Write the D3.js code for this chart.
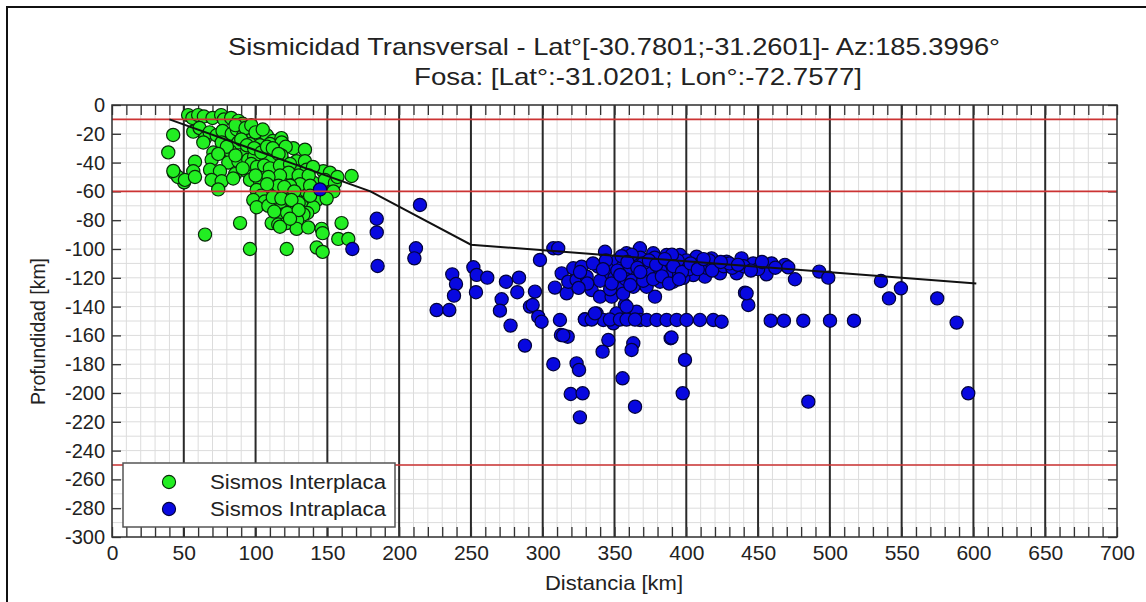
<!DOCTYPE html>
<html><head><meta charset="utf-8">
<script src="https://cdn.jsdelivr.net/npm/d3@7/dist/d3.min.js"></script>
<style>
body{margin:0;background:#fff;}
svg{display:block;font-family:"Liberation Sans",Arial,Helvetica,sans-serif;}
</style></head><body>
<svg id="c" width="1146" height="602"></svg>
<script>
const titleLines = ["Sismicidad Transversal - Lat°[-30.7801;-31.2601]- Az:185.3996°", "Fosa: [Lat°:-31.0201; Lon°:-72.7577]"];
const xLabel = "Distancia [km]";
const yLabel = "Profundidad [km]";
const legendLabels = ["Sismos Interplaca", "Sismos Intraplaca"];
const xTicks = [0,50,100,150,200,250,300,350,400,450,500,550,600,650,700];
const yTicks = [0,-20,-40,-60,-80,-100,-120,-140,-160,-180,-200,-220,-240,-260,-280,-300];
const refDepths = [-10,-60,-250];
const slabLine = [[40,-10],[180,-60],[250,-97],[602,-124]];

const interplaca = [
[42.6,-20.8],[39.2,-32.9],[43.2,-47],[50.2,-53.7],[46,-50],
[53,-7],[56,-9],[60,-7],[64,-8],[70,-9],[76,-7],[78,-10],[83,-9],[88,-11],[91,-13],
[56.6,-18.5],[61,-16],[64.8,-23.1],[68,-19],[72.9,-21],[77,-18],[83.4,-20],[87,-17],[91.5,-21],[95,-18],[98.4,-22],[103,-24],[107.8,-21],[112,-25],[118,-23],
[63.6,-26],[76.4,-26],[88,-26],[96,-27],[103,-28],[110,-27],[118.2,-26],
[70.6,-33],[82.2,-32],[93.8,-33],[100.8,-31],[107.8,-33],[114.7,-32],[126.3,-30],[134.4,-31],[121,-29],
[57.8,-39.4],[69.4,-38],[81,-40],[88,-39],[94.9,-38],[104.2,-40],[113.5,-39],[120.5,-40],[128.6,-39],[134.4,-39],[99,-36],[110,-37],[118,-35],
[42.7,-45.8],[56.6,-46],[68.3,-45],[75.2,-46],[85.7,-48],[93.8,-46],[101.9,-45],[107.8,-47],[114.7,-46],[121.7,-44],[128.6,-46],[135.5,-45],[147.2,-46],[151.8,-47],[140,-43],
[50.8,-52],[57.8,-50],[69.4,-52],[76.4,-53],[84.4,-51],[96.1,-52],[103.1,-53],[112.4,-51],[119.3,-53],[126.3,-52],[133.3,-51],[140.3,-54],[148.3,-52],[155.3,-54],[166.9,-49.3],[157,-50],
[74,-58.6],[100.8,-59],[110,-58],[119.3,-60],[128.6,-58],[137.9,-59],[154.2,-60],[104,-63],[124,-62],[132,-64],[145,-62],[115,-62],
[98.4,-66],[106.5,-67],[113.5,-66],[121.7,-68],[128.6,-66],[135.5,-67],[142.6,-66],[149.5,-65],
[100.8,-71],[108.9,-70],[118.2,-71],[125.2,-72],[132.1,-70],[140.2,-71],[136,-75],
[119.3,-76],[126.3,-77],[133.3,-76],[129,-80],
[89.2,-82],[111.2,-82],[115.8,-83],[121.7,-82],[159.9,-82],
[128.6,-86],[136.7,-85],[146,-86],[117,-84.5],
[64.8,-90],[157.6,-93],[164.6,-93],[146.7,-89],
[96.1,-100],[121.7,-100],[142.6,-99],[146.7,-102],
[86,-14],[93,-16],[97,-14],[100,-19],[105,-17],[90,-24],[94,-28],[99,-30],[104,-33],[108,-29],[112,-30],[116,-34],[97,-41],[101,-43],[106,-42],
[110,-44],[117,-42],[124,-41],[123,-47],[117,-49],[109,-50],[100,-49],[91,-44],[130,-49],[137,-49],[131,-55],[124,-56],[116,-56],[108,-55],[138,-56],
[120,-57],[127,-60],[112,-64],[118,-65],[130,-68],[125,-66],[138,-63],[113,-74],[122,-75],[130,-73],[124,-79],[80,-29],[74,-34],[86,-35]
];

const intraplaca = [
[144.9,-58.6],[167.4,-100],[184.4,-79],[184.4,-88.5],[185,-111.8],[214.5,-69.4],[211.7,-99.5],[210.6,-106.5],
[226.1,-142.4],[234.9,-142.4],[237,-117.6],[239.6,-124.3],[238.2,-132.4],
[251.7,-112.7],[254,-118],[261.4,-119.9],[253.5,-130],[274.4,-122.7],[283.5,-119.9],[282.3,-130],[271.4,-134.9],[270.2,-142.8],[277.6,-153.2],[287.6,-167.1],[291.1,-140],
[307.4,-99.5],[310.8,-99.5],[298.1,-107.6],[294.6,-129.6],[293,-138.9],[296.9,-147],[299.2,-150.5],
[312,-149.3],[312.7,-159.7],[317.4,-160.9],[307.4,-180],[323.6,-179.4],[325.3,-184],[319.5,-200.7],[327.8,-200.2],[325.9,-216.9],
[329.4,-148.8],[337.5,-144.7],[342.2,-149.3],[349.2,-151.6],[345.7,-163.2],[341.7,-171.3],[357.2,-138.9],[351.4,-144.7],[365.4,-143.5],[363.1,-165.5],[361.9,-170.1],[355.6,-189.8],[364.3,-209.5],[378.2,-133.1],
[367.8,-149.3],[372.4,-149.3],[379.3,-149.3],[386.3,-149.3],[393.3,-149.3],[400.2,-149.3],[409.5,-149.3],[418.8,-149.3],[424.6,-150.5],
[389.1,-162],[399.1,-177],[397.5,-200.2],[440.9,-130.3],[443.2,-138.9],[458.8,-149.8],[468,-149.8],[481.5,-149.8],[500.1,-149.8],[516.8,-149.8],
[468.7,-111],[471,-112.7],[475.7,-121],[492.6,-115.7],[498.9,-119.9],[535.6,-122.2],[541.2,-134.3],[549.5,-127.3],[574.8,-134.3],[588.3,-151.1],[596.4,-200.2],[485,-206],
[313.2,-116.9],[321.3,-113.4],[327.1,-112.3],[308.5,-126.8],[316.7,-130.8],[317.8,-122.7],[323.6,-121.5],[330.6,-119.2],[334.1,-128.5],[339.9,-133.1],[348,-133.1],[343.4,-101.9],[338.7,-112.3],[348,-113.4],[358.4,-103],[367.7,-99.5],[377,-103],[386.3,-104.2],[395.6,-104.2],[407.2,-105.3],[417.6,-106.5],[428.1,-108.8],[438.5,-106.5],[446.6,-110],[459.4,-110],[455.9,-117.6],[435.1,-116.9],[423.5,-116.9],[413,-119.2],[404.9,-118.1],[390.9,-122.7],[381.7,-122.7],[372.4,-126.2],[363.1,-126.2],[353.8,-126.2],
[352,-108],[356,-112],[360,-116],[364,-110],[368,-106],[372,-112],[376,-118],[380,-108],[384,-113],[388,-110],[392,-115],[396,-111],[400,-108],[404,-112],[410,-110],[414,-113],[420,-111],[426,-112],[432,-113],[440,-112],[450,-114],[344,-118],[340,-122],[350,-120],[358,-121],[366,-119],[374,-116],[386,-118],[398,-120],[362,-104],[370,-110],[382,-115],[394,-108],[344,-108],[335,-110],[331,-124],[326,-116],[352,-115],[362,-122],[378,-106],[390,-104],[402,-114],[416,-108],[430,-110],[445,-115],[370,-122],[347,-128],[356,-131],[325,-127],
[329.4,-149],[334.1,-149],[346.8,-149],[353.8,-149],[358.4,-149],[364.3,-149],[336.4,-144.7],[358.4,-140],
[314.3,-160],[389.7,-161.5],[442,-130.8],[452.7,-109],[462,-113],
[355,-105],[359,-109],[366,-113],[374,-108],[379,-111],[385,-107],[391,-112],[397,-116],[403,-110],[408,-114],[412,-107],[418,-115],[424,-109],[436,-111],[342,-114],[348,-124],[354,-118],[361,-125],[368,-116],[377,-121],[383,-119],[388,-124],[395,-121]
];

const svg = d3.select("#c");
const W = 1146, H = 602;
const L = 112, R = 1117, T = 105, B = 537;
const x = d3.scaleLinear().domain([0,700]).range([L,R]);
const y = d3.scaleLinear().domain([-300,0]).range([B,T]);
const xMinor = d3.range(0, 701, 10);
const yMinor = d3.range(-300, 1, 10);

svg.append("path").attr("d", `M7,${H} V7 H${W}`).attr("fill","none").attr("stroke","#111").attr("stroke-width",2);

const g = svg.append("g");
g.append("g").selectAll("line").data(xMinor).join("line")
  .attr("x1", d=>x(d)).attr("x2", d=>x(d)).attr("y1", T).attr("y2", B)
  .attr("stroke", "#dcdcdc").attr("stroke-width", 1);
g.append("g").selectAll("line").data(yMinor).join("line")
  .attr("y1", d=>y(d)).attr("y2", d=>y(d)).attr("x1", L).attr("x2", R)
  .attr("stroke", "#dcdcdc").attr("stroke-width", 1);
g.append("g").selectAll("line").data(xTicks.slice(1,-1)).join("line")
  .attr("x1", d=>x(d)).attr("x2", d=>x(d)).attr("y1", T).attr("y2", B)
  .attr("stroke", "#2a2a2a").attr("stroke-width", 2);

const tickStyle = sel => { sel.selectAll("path.domain").remove(); sel.selectAll("line").attr("stroke","#333").attr("stroke-width",1.3); };
g.append("g").attr("transform",`translate(0,${B})`)
  .call(d3.axisBottom(x).tickValues(xMinor).tickSize(-10).tickFormat("")).call(tickStyle);
g.append("g").attr("transform",`translate(0,${T})`)
  .call(d3.axisTop(x).tickValues(xMinor).tickSize(-10).tickFormat("")).call(tickStyle);
g.append("g").attr("transform",`translate(${L},0)`)
  .call(d3.axisLeft(y).tickValues(yTicks).tickSize(-9).tickFormat("")).call(tickStyle);
g.append("g").attr("transform",`translate(${R},0)`)
  .call(d3.axisRight(y).tickValues(yTicks).tickSize(-9).tickFormat("")).call(tickStyle);

const xl = g.append("g").attr("transform",`translate(0,${B})`)
  .call(d3.axisBottom(x).tickValues(xTicks).tickSize(0).tickPadding(8).tickFormat(d3.format("d")));
xl.select("path.domain").remove();
xl.selectAll("text").attr("font-size",21).attr("fill","#222").attr("font-family","Liberation Sans, Arial, sans-serif");
const yl = g.append("g").attr("transform",`translate(${L},0)`)
  .call(d3.axisLeft(y).tickValues(yTicks).tickSize(0).tickPadding(7).tickFormat(d3.format("d")));
yl.select("path.domain").remove();
yl.selectAll("text").attr("font-size",20).attr("fill","#222").attr("font-family","Liberation Sans, Arial, sans-serif").text(d=>String(d));

const r = 6.6;
g.append("g").selectAll("circle").data(interplaca).join("circle")
  .attr("cx", d=>x(d[0])).attr("cy", d=>y(d[1])).attr("r", r)
  .attr("fill", "#22ee22").attr("stroke", "#0a2a0a").attr("stroke-width", 1.2);
g.append("g").selectAll("circle").data(intraplaca).join("circle")
  .attr("cx", d=>x(d[0])).attr("cy", d=>y(d[1])).attr("r", r)
  .attr("fill", "#0808e0").attr("stroke", "#03033a").attr("stroke-width", 1.2);

g.append("g").selectAll("line").data(refDepths).join("line")
  .attr("x1", L).attr("x2", R).attr("y1", d=>y(d)).attr("y2", d=>y(d))
  .attr("stroke", "#cc3333").attr("stroke-width", 1.6);

g.append("path").datum(slabLine)
  .attr("d", d3.line().x(d=>x(d[0])).y(d=>y(d[1])))
  .attr("fill","none").attr("stroke","#111").attr("stroke-width",2);

g.append("rect").attr("x",L).attr("y",T).attr("width",R-L).attr("height",B-T)
  .attr("fill","none").attr("stroke","#333").attr("stroke-width",1.5);

const lg = g.append("g");
lg.append("rect").attr("x",123).attr("y",463).attr("width",272).attr("height",64)
  .attr("fill","#fff").attr("stroke","#555").attr("stroke-width",1.5);
const lc = ["#22ee22","#0808e0"], ls = ["#0a2a0a","#03033a"];
legendLabels.forEach((t,i)=>{
  lg.append("circle").attr("cx",169).attr("cy",482+i*27).attr("r",r).attr("fill",lc[i]).attr("stroke",ls[i]).attr("stroke-width",1.1);
  lg.append("text").attr("x",210).attr("y",489+i*27).attr("font-size",20).attr("fill","#222")
    .attr("textLength",176).attr("lengthAdjust","spacingAndGlyphs").text(t);
});

svg.append("text").attr("x",228).attr("y",55).attr("font-size",24).attr("fill","#222")
  .attr("textLength",772).attr("lengthAdjust","spacingAndGlyphs").text(titleLines[0]);
svg.append("text").attr("x",414).attr("y",85).attr("font-size",24).attr("fill","#222")
  .attr("textLength",448).attr("lengthAdjust","spacingAndGlyphs").text(titleLines[1]);
svg.append("text").attr("x",545).attr("y",590).attr("font-size",21).attr("fill","#222")
  .attr("textLength",138).attr("lengthAdjust","spacingAndGlyphs").text(xLabel);
svg.append("text").attr("transform","translate(45,405) rotate(-90)").attr("font-size",21).attr("fill","#222")
  .attr("textLength",147).attr("lengthAdjust","spacingAndGlyphs").text(yLabel);
</script>
</body></html>
